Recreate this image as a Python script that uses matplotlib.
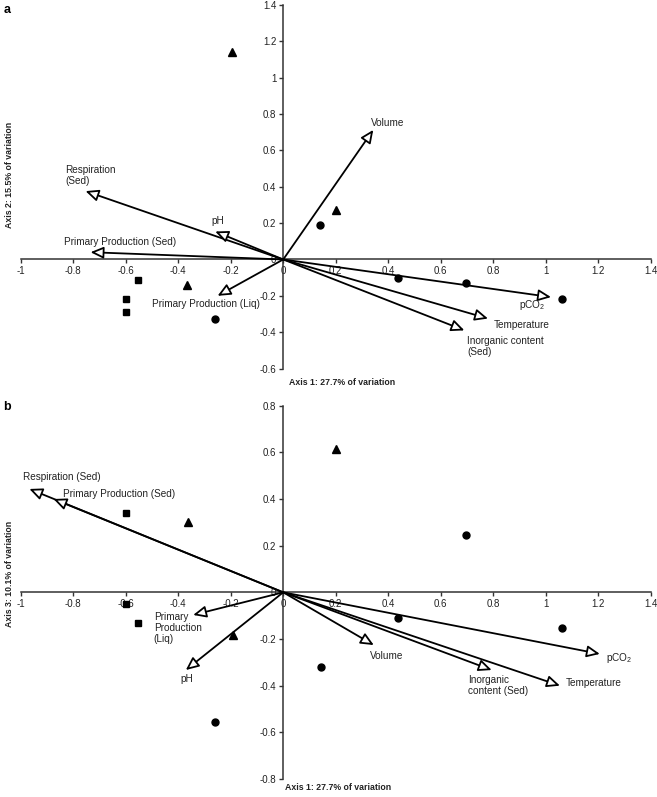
import numpy as np
import matplotlib
matplotlib.use('Agg')
from matplotlib import pyplot as plt
from matplotlib.ticker import FuncFormatter, MultipleLocator

plt.rcParams['font.family'] = ['Liberation Sans', 'DejaVu Sans']
plt.rcParams['mathtext.fontset'] = 'custom'
plt.rcParams['mathtext.rm'] = 'Liberation Sans'

# ---- panel a: axis 1 vs axis 2 ----
a_tri_x = [-0.195, 0.20, -0.365]
a_tri_y = [1.14, 0.27, -0.14]
a_cir_x = [0.14, 0.436, 0.696, 1.062, -0.259]
a_cir_y = [0.19, -0.10, -0.13, -0.216, -0.33]
a_sq_x = [-0.553, -0.60, -0.60]
a_sq_y = [-0.114, -0.22, -0.29]

a_vars = ['Respiration\n(Sed)', 'pH', 'Primary Production (Sed)', 'Primary Production (Liq)',
          'Volume', r'pCO$_\mathregular{2}$', 'Temperature', 'Inorganic content\n(Sed)']
a_vec_x = [-0.753, -0.259, -0.734, -0.25, 0.343, 1.02, 0.78, 0.69]
a_vec_y = [0.376, 0.154, 0.04, -0.20, 0.713, -0.207, -0.325, -0.39]

# ---- panel b: axis 1 vs axis 3 ----
b_tri_x = [0.20, -0.363, -0.193]
b_tri_y = [0.613, 0.303, -0.183]
b_cir_x = [0.698, 0.437, 1.063, 0.143, -0.259]
b_cir_y = [0.246, -0.11, -0.154, -0.32, -0.555]
b_sq_x = [-0.60, -0.60, -0.553]
b_sq_y = [0.341, -0.05, -0.133]

b_vars = ['Respiration (Sed)', 'Primary Production (Sed)', 'Primary\nProduction\n(Liq)', 'pH',
          'Volume', r'pCO$_\mathregular{2}$', 'Inorganic\ncontent (Sed)', 'Temperature']
b_vec_x = [-0.967, -0.875, -0.343, -0.371, 0.345, 1.206, 0.794, 1.054]
b_vec_y = [0.443, 0.40, -0.097, -0.333, -0.226, -0.264, -0.333, -0.40]

# label anchors (x, y, ha, va)
a_lab = [(-0.83, 0.52, 'left', 'top'), (-0.25, 0.21, 'center', 'center'),
         (-0.836, 0.097, 'left', 'center'), (-0.50, -0.247, 'left', 'center'),
         (0.335, 0.753, 'left', 'center'), (0.897, -0.25, 'left', 'center'),
         (0.80, -0.36, 'left', 'center'), (0.70, -0.42, 'left', 'top')]
b_lab = [(-0.993, 0.496, 'left', 'center'), (-0.837, 0.42, 'left', 'center'),
         (-0.493, -0.152, 'left', 'center'), (-0.367, -0.373, 'center', 'center'),
         (0.329, -0.272, 'left', 'center'), (1.229, -0.28, 'left', 'center'),
         (0.703, -0.355, 'left', 'top'), (1.077, -0.387, 'left', 'center')]

fig = plt.figure(figsize=(6.57, 7.97), dpi=100)
ax_a = fig.add_axes([0.0315, 0.5376, 0.959, 0.4561])
ax_b = fig.add_axes([0.0315, 0.0226, 0.959, 0.4684])

fmt = FuncFormatter(lambda v, p: f'{round(v, 2):g}')
txt_col = '#222222'


def setup(ax, ylim):
    ax.set_xlim(-1, 1.4)
    ax.set_ylim(*ylim)
    ax.spines['left'].set_position('zero')
    ax.spines['bottom'].set_position('zero')
    ax.spines['right'].set_visible(False)
    ax.spines['top'].set_visible(False)
    for s in ('left', 'bottom'):
        ax.spines[s].set_linewidth(1.1)
        ax.spines[s].set_color('#333333')
    ax.xaxis.set_major_locator(MultipleLocator(0.2))
    ax.yaxis.set_major_locator(MultipleLocator(0.2))
    ax.xaxis.set_major_formatter(fmt)
    ax.yaxis.set_major_formatter(fmt)
    ax.tick_params(labelsize=7, colors='#333333', labelcolor=txt_col, length=3, width=1, pad=2)
    ax.patch.set_alpha(0)


def draw(ax, tx, ty, cx, cy, sx, sy, names, vx, vy, labs):
    for name, x, y, (lx, ly, ha, va) in zip(names, vx, vy, labs):
        ax.annotate('', xy=(x, y), xytext=(0, 0),
                    arrowprops=dict(arrowstyle='-|>,head_length=0.6,head_width=0.27',
                                    fc='white', ec='black', lw=1.3,
                                    mutation_scale=13, shrinkA=0, shrinkB=0))
        ax.text(lx, ly, name, ha=ha, va=va, fontsize=7.2, color=txt_col, linespacing=1.1)
    ax.plot(tx, ty, '^', color='black', ms=5.5, ls='none', zorder=5)
    ax.plot(cx, cy, 'o', color='black', ms=5, ls='none', zorder=5)
    ax.plot(sx, sy, 's', color='black', ms=4.5, ls='none', zorder=5)


setup(ax_a, (-0.6, 1.4))
setup(ax_b, (-0.8, 0.8))
draw(ax_a, a_tri_x, a_tri_y, a_cir_x, a_cir_y, a_sq_x, a_sq_y, a_vars, a_vec_x, a_vec_y, a_lab)
draw(ax_b, b_tri_x, b_tri_y, b_cir_x, b_cir_y, b_sq_x, b_sq_y, b_vars, b_vec_x, b_vec_y, b_lab)

fig.text(0.440, 0.5195, 'Axis 1: 27.7% of variation', fontsize=6.3, fontweight='bold', va='center', color=txt_col)
fig.text(0.434, 0.0113, 'Axis 1: 27.7% of variation', fontsize=6.3, fontweight='bold', va='center', color=txt_col)
fig.text(0.014, 0.781, 'Axis 2: 15.5% of variation', fontsize=6.3, fontweight='bold', rotation=90,
         ha='center', va='center', color=txt_col)
fig.text(0.014, 0.280, 'Axis 3: 10.1% of variation', fontsize=6.3, fontweight='bold', rotation=90,
         ha='center', va='center', color=txt_col)
fig.text(0.005, 0.995, 'a', fontsize=9, fontweight='bold', va='top')
fig.text(0.005, 0.497, 'b', fontsize=9, fontweight='bold', va='top')

fig.savefig('out.png', dpi=100)
